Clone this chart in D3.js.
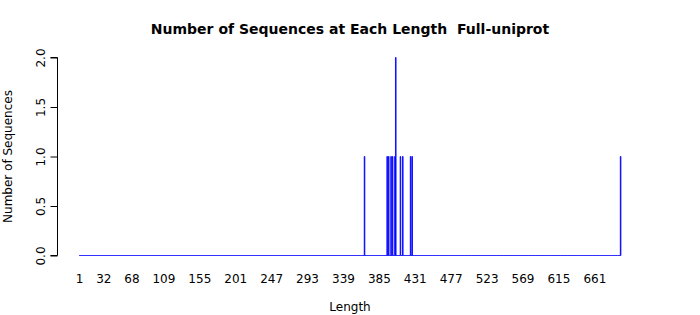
<!DOCTYPE html>
<html>
<head>
<meta charset="utf-8">
<script src="https://cdn.jsdelivr.net/npm/d3@7"></script>
<style>
  body { margin: 0; background: #fff; }
  svg text { font-family: "DejaVu Sans", sans-serif; fill: #000; white-space: pre; }
</style>
</head>
<body>
<div id="chart"></div>
<script>
// lengths seen in the picture, and how many sequences have each one
const maxLength = 694;
const seqLengths = [366, 395, 397, 400, 402, 405, 406, 412, 415, 425, 427, 694];
const seqCounts  = [1,   1,   1,   1,   1,   1,   2,   1,   1,   1,   1,   1];
const xTickLabels = [1, 32, 68, 109, 155, 201, 247, 293, 339, 385, 431, 477, 523, 569, 615, 661];
const yTicks = [0, 0.5, 1, 1.5, 2];

const W = 700, H = 315;
const counts = new Map(seqLengths.map((l, i) => [l, seqCounts[i]]));
const data = d3.range(1, maxLength + 1).map(l => ({len: l, n: counts.get(l) || 0}));

const svg = d3.select("#chart").append("svg")
	.attr("width", W)
	.attr("height", H);

const x = d3.scaleBand()
	.domain(data.map(d => d.len))
	.range([79.2, 621])
	.paddingInner(0.2)
	.paddingOuter(0.1);

const y = d3.scaleLinear()
	.domain([0, 2])
	.range([255.5, 57.5]);

// bars, drawn as outlined rects so empty lengths still show on the baseline
svg.append("g")
	.selectAll("path")
	.data(data)
	.enter()
	.append("path")
	.attr("d", d => {
		const l = x(d.len), r = l + x.bandwidth();
		return `M${l},${y(0)}V${y(d.n)}H${r}V${y(0)}Z`;
	})
	.attr("fill", "#0000ff")
	.attr("stroke", "#0000ff")
	.attr("stroke-width", 0.8);

// y axis
const yAxis = svg.append("g")
	.attr("transform", "translate(57.5,0)")
	.call(d3.axisLeft(y).tickValues(yTicks).tickSize(7).tickFormat(d3.format(".1f")));
yAxis.select(".domain").attr("stroke", "#000").attr("d", `M-7,${y(0)}H0V${y(2)}H-7`);
yAxis.selectAll(".tick line").attr("stroke", "#000");
yAxis.selectAll(".tick text")
	.attr("x", null).attr("dy", null)
	.attr("text-anchor", "middle")
	.attr("transform", "translate(-13,0) rotate(-90)")
	.style("font-size", "12px");

// x tick labels (no axis line, like barplot names)
svg.append("g")
	.selectAll("text")
	.data(xTickLabels)
	.enter()
	.append("text")
	.attr("x", d => x(d) + x.bandwidth() / 2)
	.attr("y", 283)
	.attr("text-anchor", "middle")
	.style("font-size", "12px")
	.text(d => d);

// titles
svg.append("text")
	.attr("x", 350)
	.attr("y", 34)
	.attr("text-anchor", "middle")
	.style("font-size", "14px")
	.style("font-weight", "bold")
	.text("Number of Sequences at Each Length  Full-uniprot");

svg.append("text")
	.attr("x", 350)
	.attr("y", 311)
	.attr("text-anchor", "middle")
	.style("font-size", "12px")
	.text("Length");

svg.append("text")
	.attr("transform", "translate(12,156.5) rotate(-90)")
	.attr("text-anchor", "middle")
	.style("font-size", "12px")
	.text("Number of Sequences");
</script>
</body>
</html>
